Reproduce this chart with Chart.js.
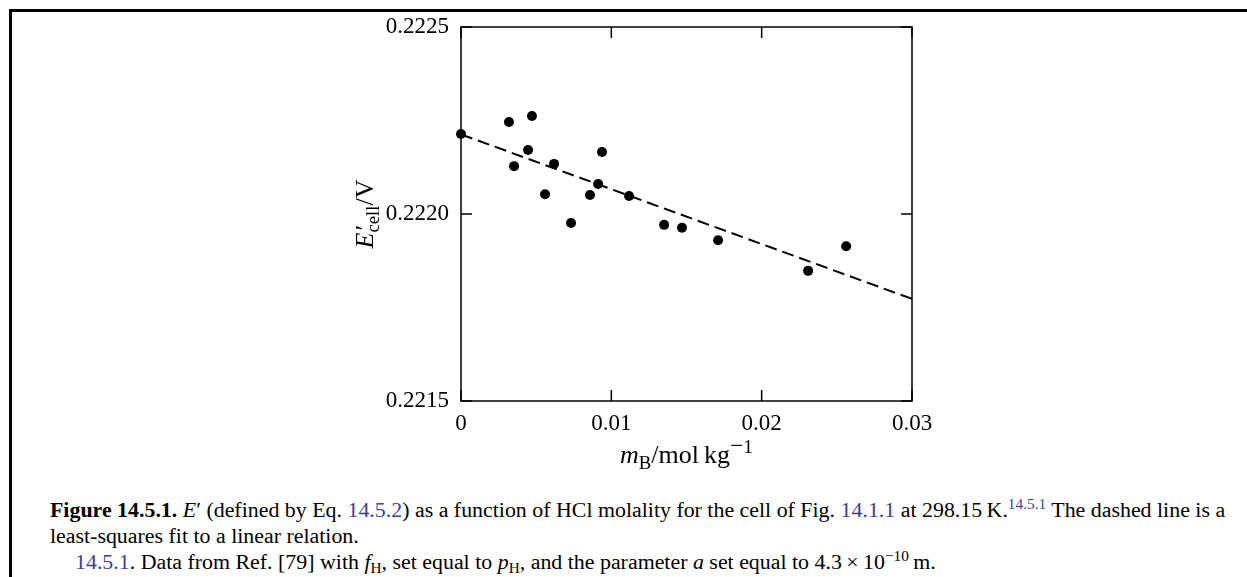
<!DOCTYPE html>
<html>
<head>
<meta charset="utf-8">
<script src="https://cdn.jsdelivr.net/npm/chart.js@4/dist/chart.umd.min.js"></script>
<style>
html, body { margin: 0; padding: 0; background: #fff; }
body { width: 1247px; height: 577px; position: relative; overflow: hidden; font-family: "Liberation Serif", "Times New Roman", serif; }
#lineTop { position: absolute; left: 9px; top: 9px; width: 1238px; height: 3px; background: #000; }
#lineLeft { position: absolute; left: 9px; top: 9px; width: 3px; height: 568px; background: #000; }
#wrap { position: absolute; left: 0; top: 0; width: 1247px; height: 470px; }
#caption { position: absolute; left: 50px; top: 497px; font-size: 21.9px; line-height: 26px; color: #000; white-space: nowrap; }
#caption .ref { color: #3d3d99; }
#caption sup, #caption sub { font-size: 70%; line-height: 0; }
#caption sup { vertical-align: 0.55em; }
#caption sub { vertical-align: -0.25em; }
.indent { padding-left: 25px; }
</style>
</head>
<body>
<div id="lineTop"></div>
<div id="lineLeft"></div>
<div id="wrap"><canvas id="chart" width="1247" height="470"></canvas></div>
<div id="caption">
<div><b>Figure 14.5.1.</b> <i>E</i>′ (defined by Eq. <span class="ref">14.5.2</span>) as a function of HCl molality for the cell of Fig. <span class="ref">14.1.1</span> at 298.15&#8201;K.<sup class="ref">14.5.1</sup> The dashed line is a</div>
<div>least-squares fit to a linear relation.</div>
<div class="indent"><span class="ref">14.5.1</span>. Data from Ref. [79] with <i>f</i><sub>H</sub>, set equal to <i>p</i><sub>H</sub>, and the parameter <i>a</i> set equal to 4.3&#8201;×&#8201;10<sup>−10</sup>&#8201;m.</div>
</div>
<script>
// measured points: HCl molality (mol/kg) vs E'cell (V)
const molality = [0, 0.00319, 0.00472, 0.00446, 0.00353, 0.00619, 0.00938, 0.00559, 0.00912,
	0.00858, 0.01118, 0.00732, 0.01351, 0.0147, 0.0171, 0.02309, 0.02562];
const ecell = [0.222214, 0.222246, 0.222262, 0.222171, 0.222128, 0.222134, 0.222166, 0.222053, 0.22208,
	0.222051, 0.222048, 0.221976, 0.221971, 0.221963, 0.22193, 0.221848, 0.221914];

// least-squares line, end points
const fitX = [0, 0.03];
const fitY = [0.222213, 0.221773];

const xTickLabels = ["0", "0.01", "0.02", "0.03"];
const yTickLabels = ["0.2215", "0.2220", "0.2225"];

const serif = "'Liberation Serif', 'Times New Roman', serif";
const fontSize = 23;
const titleSize = 26;

// frame round the plot and short inward ticks on all four sides
const framePlugin = {
	id: "frame",
	beforeDatasetsDraw(chart) {
		const { ctx, chartArea: a, scales } = chart;
		const len = 11;
		ctx.save();
		ctx.strokeStyle = "#000";
		ctx.lineWidth = 1.5;
		ctx.strokeRect(a.left, a.top, a.right - a.left, a.bottom - a.top);
		ctx.beginPath();
		scales.x.ticks.forEach((t) => {
			const px = scales.x.getPixelForValue(t.value);
			ctx.moveTo(px, a.bottom);
			ctx.lineTo(px, a.bottom - len);
			ctx.moveTo(px, a.top);
			ctx.lineTo(px, a.top + len);
		});
		scales.y.ticks.forEach((t) => {
			const py = scales.y.getPixelForValue(t.value);
			ctx.moveTo(a.left, py);
			ctx.lineTo(a.left + len, py);
			ctx.moveTo(a.right, py);
			ctx.lineTo(a.right - len, py);
		});
		ctx.stroke();
		ctx.restore();
	},
};

// axis titles with sub/superscripts
function partFont(p) {
	const size = titleSize * (p.s || 1);
	return (p.i ? "italic " : "") + size + "px " + serif;
}

function drawRich(ctx, parts, x, y) {
	let total = 0;
	parts.forEach((p) => {
		ctx.font = partFont(p);
		if (!p.noAdv) total += ctx.measureText(p.t).width;
	});
	let cx = x - total / 2;
	parts.forEach((p) => {
		ctx.font = partFont(p);
		ctx.fillText(p.t, cx + (p.dx || 0), y + (p.dy || 0) * titleSize);
		if (!p.noAdv) cx += ctx.measureText(p.t).width;
	});
}

const xTitle = [
	{ t: "m", i: true },
	{ t: "B", s: 0.72, dy: 0.22 },
	{ t: "/mol\u2009kg" },
	{ t: "\u2212", s: 0.9, dy: -0.4 },
	{ t: "1", s: 0.75, dy: -0.4 },
];
const yTitle = [
	{ t: "E", i: true },
	{ t: "\u2032", noAdv: true, dx: 2 },
	{ t: "cell", s: 0.72, dy: 0.22 },
	{ t: "/V" },
];

const titlePlugin = {
	id: "titles",
	afterDraw(chart) {
		const { ctx, chartArea: a } = chart;
		ctx.save();
		ctx.fillStyle = "#000";
		ctx.textBaseline = "alphabetic";
		drawRich(ctx, xTitle, (a.left + a.right) / 2, 463);
		ctx.translate(373, (a.top + a.bottom) / 2);
		ctx.rotate(-Math.PI / 2);
		drawRich(ctx, yTitle, 0, 0);
		ctx.restore();
	},
};

const points = molality.map((m, i) => ({ x: m, y: ecell[i] }));
const fitLine = fitX.map((m, i) => ({ x: m, y: fitY[i] }));

new Chart(document.getElementById("chart"), {
	type: "scatter",
	data: {
		datasets: [
			{
				data: points,
				backgroundColor: "#000",
				borderWidth: 0,
				pointRadius: 5,
				clip: false,
			},
			{
				type: "line",
				data: fitLine,
				borderColor: "#000",
				borderWidth: 2,
				borderDash: [12, 6],
				pointRadius: 0,
				fill: false,
			},
		],
	},
	options: {
		responsive: false,
		devicePixelRatio: 1,
		animation: false,
		layout: { padding: { left: 361, right: 335, top: 27, bottom: 0 } },
		plugins: { legend: { display: false }, tooltip: { enabled: false } },
		scales: {
			x: {
				type: "linear",
				min: 0,
				max: 0.03,
				grid: { display: false, drawTicks: false },
				border: { display: false },
				ticks: {
					stepSize: 0.01,
					padding: 9,
					color: "#000",
					font: { family: serif, size: fontSize },
					callback: (v, i) => xTickLabels[i],
				},
				afterFit: (s) => { s.height = 69; },
			},
			y: {
				type: "linear",
				min: 0.2215,
				max: 0.2225,
				grid: { display: false, drawTicks: false },
				border: { display: false },
				ticks: {
					stepSize: 0.0005,
					padding: 12,
					color: "#000",
					font: { family: serif, size: fontSize },
					callback: (v, i) => yTickLabels[i],
				},
				afterFit: (s) => { s.width = 100; },
			},
		},
	},
	plugins: [framePlugin, titlePlugin],
});
</script>
</body>
</html>
